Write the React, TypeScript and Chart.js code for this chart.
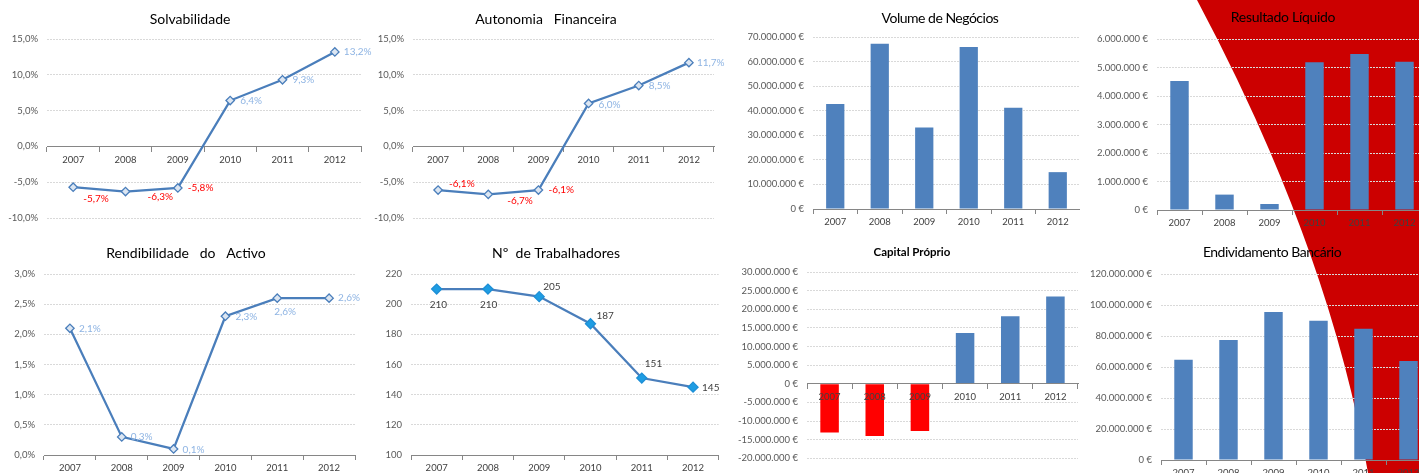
import React, { useEffect, useRef } from "react";
import { Chart, registerables } from "chart.js";
Chart.register(...registerables);

// ---------- data ----------
const years = ["2007", "2008", "2009", "2010", "2011", "2012"];
const solvabilidade = [-5.7, -6.3, -5.8, 6.4, 9.3, 13.2];
const autonomiaFinanceira = [-6.1, -6.7, -6.1, 6.0, 8.5, 11.7];
const rendibilidadeActivo = [2.1, 0.3, 0.1, 2.3, 2.6, 2.6];
const trabalhadores = [210, 210, 205, 187, 151, 145];
const volumeNegocios = [42700000, 67300000, 33200000, 65900000, 41200000, 15000000];
const resultadoLiquido = [4530000, 540000, 210000, 5180000, 5470000, 5200000];
const capitalProprio = [-13100000, -14000000, -12700000, 13600000, 18100000, 23400000];
const endividamentoBancario = [64700000, 77400000, 95500000, 89900000, 84700000, 63900000];

// ---------- styles ----------
const FONT = "Lato";
const LINE = "#4A7EBB";
const BAR = "#4F81BD";
const NEG_BAR = "#FF0000";
const GRID = "#D9D9D9";
const AXIS = "#868686";
const TICK_TXT = "#595959";
const POS_LBL = "#8EB4E3";
const NEG_LBL = "#FF0000";

const pct = (v: number) => v.toFixed(1).replace(".", ",") + "%";
const eur = (v: number) =>
  (v < 0 ? "-" : "") +
  Math.round(Math.abs(v)).toString().replace(/\B(?=(\d{3})+(?!\d))/g, ".") +
  " €";

// label offsets (px) relative to each point
const solvOffsets = [[10, 12], [22, 5], [10, 0], [10, 0], [10, 0], [9, 0]];
const autoOffsets = [[11, -6], [19, 6], [10, 0], [10, 1], [10, 0], [8, 0]];
const rendOffsets = [[9, 0], [9, 0], [9, 1], [10, 1], [-3, 14], [9, 0]];
const trabOffsets = [[-7, 16], [-8, 16], [4, -10], [6, -8], [3, -14], [9, 1]];

function titlePlugin(text: string, x: number, y: number, font: string, spacing: number) {
  return {
    id: "fixedTitle",
    afterDraw(chart: any) {
      const ctx = chart.ctx;
      ctx.save();
      ctx.font = font;
      ctx.fillStyle = "#000";
      ctx.textAlign = "center";
      ctx.textBaseline = "middle";
      try {
        (ctx as any).letterSpacing = spacing + "px";
      } catch (e) {}
      ctx.fillText(text, x, y);
      ctx.restore();
    },
  };
}

function labelPlugin(texts: string[], offsets: number[][], colors: string[]) {
  return {
    id: "pointLabels",
    afterDatasetsDraw(chart: any) {
      const ctx = chart.ctx;
      const meta = chart.getDatasetMeta(0);
      ctx.save();
      ctx.font = `10px ${FONT}`;
      ctx.textAlign = "left";
      ctx.textBaseline = "middle";
      meta.data.forEach((el: any, i: number) => {
        ctx.fillStyle = colors[i];
        ctx.fillText(texts[i], el.x + offsets[i][0], el.y + offsets[i][1]);
      });
      ctx.restore();
    },
  };
}

type Spec = {
  kind: "line" | "bar";
  values: number[];
  min: number;
  max: number;
  step: number;
  fmt: (v: number) => string;
  box: { l: number; t: number; w: number; h: number };
  yw: number;
  pad: { left: number; right: number; top: number; bottom: number };
  xAtZero: boolean;
  xh?: number;
  xPad: number;
  title: string;
  tx: number;
  ty: number;
  tfont: string;
  tspace?: number;
  offsets?: number[][];
  labelColors?: string[];
  filledMarker?: boolean;
};

function buildConfig(s: Spec): any {
  const tickFont = { family: FONT, size: 9.5 };
  const plugins: any[] = [titlePlugin(s.title, s.tx - s.box.l, s.ty - s.box.t, s.tfont, s.tspace || 0)];
  if (s.offsets && s.labelColors) {
    plugins.push(labelPlugin(s.values.map((v) => s.fmt(v)), s.offsets, s.labelColors));
  }
  const dataset: any =
    s.kind === "line"
      ? {
          data: s.values,
          borderColor: LINE,
          borderWidth: 2.25,
          pointStyle: "rectRot",
          pointRadius: s.filledMarker ? 5 : 4.2,
          pointBackgroundColor: s.filledMarker ? "#1E9DE3" : "#DCE6F2",
          pointBorderColor: s.filledMarker ? "#1E8FD6" : LINE,
          pointBorderWidth: 1.3,
          tension: 0,
          clip: false,
        }
      : {
          data: s.values,
          backgroundColor: s.values.map((v) => (v < 0 ? NEG_BAR : BAR)),
          barPercentage: 0.41,
          categoryPercentage: 1,
        };
  const onTop = s.xAtZero && s.kind === "bar" ? 1 : 0;
  const xScale: any = {
    type: "category",
    offset: true,
    position: s.xAtZero ? { y: 0 } : "bottom",
    grid: {
      display: true,
      drawOnChartArea: false,
      drawTicks: true,
      tickLength: 5,
      tickColor: AXIS,
      offset: true,
      z: onTop,
    },
    border: { display: true, color: AXIS, width: 1, z: onTop },
    ticks: {
      font: tickFont,
      color: "#404040",
      padding: s.xPad,
      maxRotation: 0,
      autoSkip: false,
      z: onTop,
    },
  };
  if (!s.xAtZero && s.xh) {
    const h = s.xh;
    xScale.afterFit = (sc: any) => {
      sc.height = h;
    };
  }
  const yw = s.yw;
  return {
    type: s.kind,
    data: { labels: years, datasets: [dataset] },
    plugins,
    options: {
      responsive: false,
      animation: false,
      events: [],
      layout: { padding: s.pad },
      plugins: { legend: { display: false }, tooltip: { enabled: false }, title: { display: false } },
      scales: {
        x: xScale,
        y: {
          min: s.min,
          max: s.max,
          ticks: { stepSize: s.step, callback: (v: any) => s.fmt(Number(v)), font: tickFont, color: TICK_TXT, padding: 9 },
          grid: { color: GRID, drawTicks: false, lineWidth: 1 },
          border: { display: false, dash: [2, 1] },
          afterFit: (sc: any) => {
            sc.width = yw;
          },
        },
      },
    },
  };
}

const TITLE = `14px ${FONT}`;

const specs: Spec[] = [
  {
    kind: "line", values: solvabilidade, min: -10, max: 15, step: 5, fmt: pct,
    box: { l: 0, t: 0, w: 374, h: 236 }, yw: 47, pad: { left: 0, right: 13, top: 39, bottom: 18 },
    xAtZero: true, xPad: 3, title: "Solvabilidade", tx: 190, ty: 19, tfont: TITLE,
    offsets: solvOffsets, labelColors: solvabilidade.map((v) => (v < 0 ? NEG_LBL : POS_LBL)),
  },
  {
    kind: "line", values: autonomiaFinanceira, min: -10, max: 15, step: 5, fmt: pct,
    box: { l: 365, t: 0, w: 366, h: 236 }, yw: 48, pad: { left: 0, right: 17, top: 39, bottom: 18 },
    xAtZero: true, xPad: 3, title: "Autonomia   Financeira", tx: 546, ty: 19, tfont: TITLE,
    offsets: autoOffsets, labelColors: autonomiaFinanceira.map((v) => (v < 0 ? NEG_LBL : POS_LBL)),
  },
  {
    kind: "line", values: rendibilidadeActivo, min: 0, max: 3, step: 0.5, fmt: pct,
    box: { l: 0, t: 236, w: 365, h: 237 }, yw: 44, pad: { left: 0, right: 10, top: 38, bottom: 0 },
    xAtZero: false, xh: 18, xPad: 2, title: "Rendibilidade   do   Activo", tx: 186, ty: 253, tfont: TITLE,
    offsets: rendOffsets, labelColors: rendibilidadeActivo.map(() => POS_LBL),
  },
  {
    kind: "line", values: trabalhadores, min: 100, max: 220, step: 20, fmt: (v) => String(v),
    box: { l: 365, t: 236, w: 360, h: 237 }, yw: 46, pad: { left: 0, right: 4, top: 38, bottom: 0 },
    xAtZero: false, xh: 18, xPad: 2, title: "Nº  de Trabalhadores", tx: 556, ty: 253, tfont: TITLE,
    offsets: trabOffsets, labelColors: trabalhadores.map(() => "#404040"), filledMarker: true,
  },
  {
    kind: "bar", values: volumeNegocios, min: 0, max: 70000000, step: 10000000, fmt: eur,
    box: { l: 725, t: 0, w: 355, h: 236 }, yw: 88, pad: { left: 0, right: 0, top: 37, bottom: 0 },
    xAtZero: false, xh: 27, xPad: 2, title: "Volume de Negócios", tx: 940, ty: 18, tfont: TITLE, tspace: -0.5,
  },
  {
    kind: "bar", values: resultadoLiquido, min: 0, max: 6000000, step: 1000000, fmt: eur,
    box: { l: 1080, t: 0, w: 347, h: 236 }, yw: 77, pad: { left: 0, right: 0, top: 39, bottom: 0 },
    xAtZero: false, xh: 26, xPad: 2, title: "Resultado Líquido", tx: 1283, ty: 17, tfont: TITLE, tspace: -0.3,
  },
  {
    kind: "bar", values: capitalProprio, min: -20000000, max: 30000000, step: 5000000, fmt: eur,
    box: { l: 725, t: 236, w: 355, h: 237 }, yw: 82, pad: { left: 0, right: 2, top: 36, bottom: 8 },
    xAtZero: true, xPad: 2, title: "Capital Próprio", tx: 912, ty: 252, tfont: `bold 11.5px ${FONT}`,
  },
  {
    kind: "bar", values: endividamentoBancario, min: 0, max: 120000000, step: 20000000, fmt: eur,
    box: { l: 1080, t: 236, w: 352, h: 244 }, yw: 81, pad: { left: 0, right: 1, top: 38, bottom: 0 },
    xAtZero: false, xh: 20, xPad: 2, title: "Endividamento Bancário", tx: 1272, ty: 252, tfont: TITLE, tspace: -0.5,
  },
];

function ChartCanvas({ spec }: { spec: Spec }) {
  const ref = useRef<HTMLCanvasElement>(null);
  useEffect(() => {
    const chart = new Chart(ref.current as HTMLCanvasElement, buildConfig(spec));
    return () => chart.destroy();
  }, []);
  const { l, t, w, h } = spec.box;
  return (
    <canvas
      ref={ref}
      width={w}
      height={h}
      style={{ position: "absolute", left: l, top: t, width: w, height: h, display: "block" }}
    />
  );
}

export default function App() {
  return (
    <div style={{ position: "fixed", left: 0, top: 0, width: 1419, height: 473, overflow: "hidden", background: "#fff" }}>
      <svg width={1419} height={473} style={{ position: "absolute", left: 0, top: 0 }}>
        <path d="M1197 0 Q1330 250 1368 473 L1419 473 L1419 0 Z" fill="#CC0000" />
      </svg>
      {specs.map((s, i) => (
        <ChartCanvas key={i} spec={s} />
      ))}
    </div>
  );
}
